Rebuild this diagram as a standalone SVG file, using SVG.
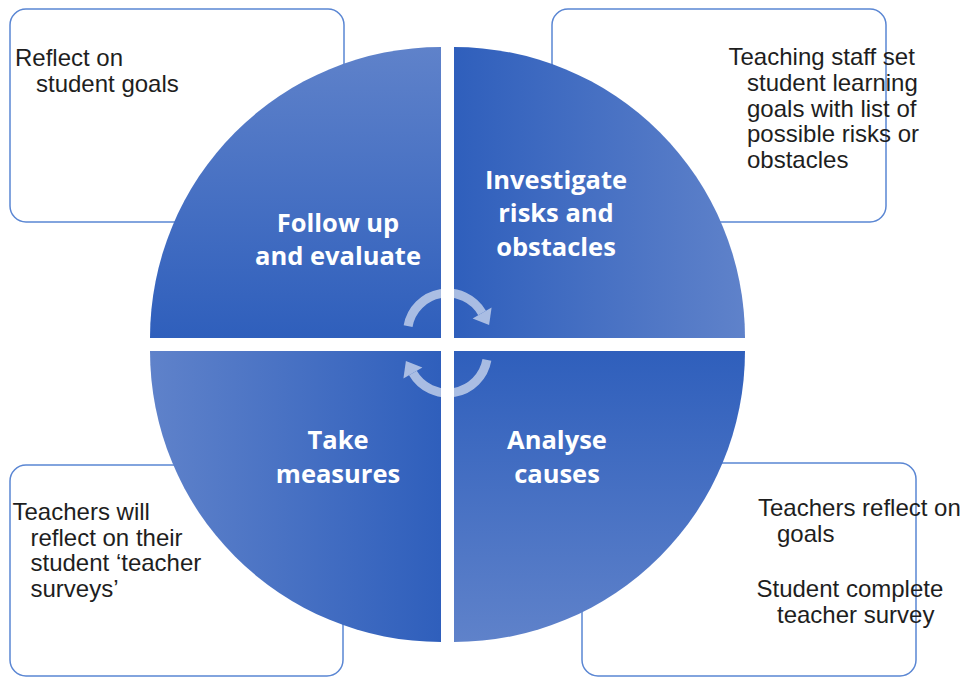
<svg xmlns="http://www.w3.org/2000/svg" width="968" height="678" viewBox="0 0 968 678">
<defs>
<style>
.box{fill:#ffffff;stroke:#5a86d3;stroke-width:1.5}
.note{font-family:"Liberation Sans",Arial,sans-serif;font-size:24px;fill:#1e1e1e}
.lbl{font-family:"Open Sans","Lato",sans-serif;font-weight:700;font-size:25.5px;fill:#ffffff;text-anchor:middle}
.arc{fill:none;stroke:#ffffff;stroke-width:9}
.head{fill:#ffffff}
</style>
<linearGradient id="gTL" x1="0" y1="0" x2="0" y2="1"><stop offset="0" stop-color="#5f82ca"/><stop offset="1" stop-color="#2f5fbc"/></linearGradient>
<linearGradient id="gTR" x1="0" y1="0" x2="1" y2="0"><stop offset="0" stop-color="#2f5fbc"/><stop offset="1" stop-color="#5f82ca"/></linearGradient>
<linearGradient id="gBR" x1="0" y1="0" x2="0" y2="1"><stop offset="0" stop-color="#2f5fbc"/><stop offset="1" stop-color="#5f82ca"/></linearGradient>
<linearGradient id="gBL" x1="0" y1="0" x2="1" y2="0"><stop offset="0" stop-color="#5f82ca"/><stop offset="1" stop-color="#2f5fbc"/></linearGradient>
</defs>
<rect width="968" height="678" fill="#ffffff"/>

<g id="note-tl">
<rect class="box" x="10" y="9" width="334" height="213" rx="16"/>
<text class="note"><tspan x="15" y="66">Reflect on</tspan><tspan x="36" y="91.5">student goals</tspan></text>
</g>
<g id="note-tr">
<rect class="box" x="552" y="9" width="334" height="213" rx="16"/>
<text class="note"><tspan x="728.5" y="65">Teaching staff set</tspan><tspan x="747" y="90.8">student learning</tspan><tspan x="747" y="116.6">goals with list of</tspan><tspan x="747" y="142.4">possible risks or</tspan><tspan x="747" y="168.2">obstacles</tspan></text>
</g>
<g id="note-bl">
<rect class="box" x="10" y="465" width="333" height="211" rx="16"/>
<text class="note"><tspan x="12.5" y="520">Teachers will</tspan><tspan x="30.5" y="545.8">reflect on their</tspan><tspan x="30.5" y="571.4">student ‘teacher</tspan><tspan x="30.5" y="597">surveys’</tspan></text>
</g>
<g id="note-br">
<rect class="box" x="582" y="463" width="334" height="213" rx="16"/>
<text class="note"><tspan x="758" y="516">Teachers reflect on</tspan><tspan x="777" y="542">goals</tspan><tspan x="756.5" y="597">Student complete</tspan><tspan x="777" y="623">teacher survey</tspan></text>
</g>

<g id="q-follow-up">
<path d="M441,338 L150,338 A291,291 0 0 1 441,47 Z" fill="url(#gTL)"/>
<text class="lbl"><tspan x="338" y="232">Follow up</tspan><tspan x="338" y="265">and evaluate</tspan></text>
</g>
<g id="q-investigate">
<path d="M454,338 L454,47 A291,291 0 0 1 745,338 Z" fill="url(#gTR)"/>
<text class="lbl"><tspan x="556" y="188.5">Investigate</tspan><tspan x="556" y="222">risks and</tspan><tspan x="556" y="256">obstacles</tspan></text>
</g>
<g id="q-analyse">
<path d="M454,351 L745,351 A291,291 0 0 1 454,642 Z" fill="url(#gBR)"/>
<text class="lbl"><tspan x="557" y="449">Analyse</tspan><tspan x="557" y="483">causes</tspan></text>
</g>
<g id="q-take-measures">
<path d="M441,351 L441,642 A291,291 0 0 1 150,351 Z" fill="url(#gBL)"/>
<text class="lbl"><tspan x="338" y="449">Take</tspan><tspan x="338" y="483">measures</tspan></text>
</g>

<g id="connectors" opacity="0.58">
<path class="arc" d="M408.1,326.1 A40,40 0 0 1 482.1,313"/>
<polygon class="head" points="491.6,307.5 472.6,318.5 489.1,325.1"/>
<path class="arc" d="M486.9,359.9 A40,40 0 0 1 412.9,373"/>
<polygon class="head" points="403.4,378.5 422.4,367.5 405.9,360.9"/>
</g>
</svg>
